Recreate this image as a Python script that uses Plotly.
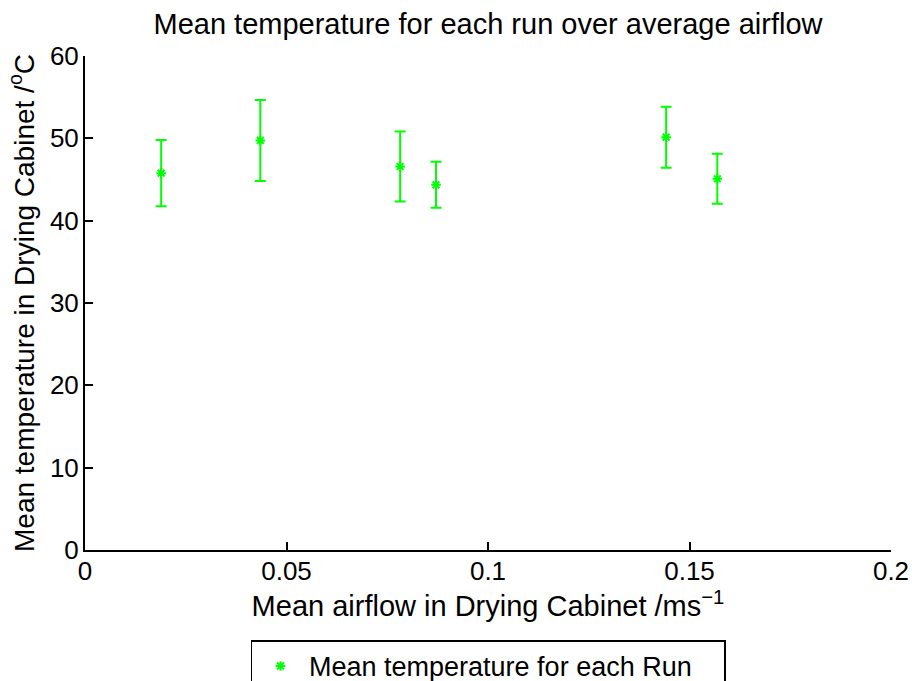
import plotly.graph_objects as go

airflow = [0.0189, 0.0435, 0.0782, 0.0871, 0.1442, 0.1569]
mean_temp = [45.77, 49.74, 46.58, 44.36, 50.14, 45.09]
temp_err = [4.03, 4.92, 4.25, 2.80, 3.70, 3.03]

x_ticks = [0, 0.05, 0.1, 0.15, 0.2]
x_ticklabels = ["0", "0.05", "0.1", "0.15", "0.2"]
y_ticks = [0, 10, 20, 30, 40, 50, 60]

FONT = "Liberation Sans, Arial, Helvetica, sans-serif"
GREEN = "#00ff00"

fig = go.Figure()
fig.add_trace(go.Scatter(
    x=airflow, y=mean_temp, mode="markers",
    name="Mean temperature for each Run",
    marker=dict(symbol="asterisk-open", size=8, color=GREEN,
                line=dict(color=GREEN, width=2)),
    error_y=dict(type="data", array=temp_err, visible=True,
                 color=GREEN, thickness=2, width=5.5),
))

fig.update_layout(
    width=912, height=681,
    paper_bgcolor="white", plot_bgcolor="white",
    margin=dict(l=85, r=21, t=56, b=131, autoexpand=False),
    font=dict(family=FONT, size=26, color="black"),
    title=dict(text="Mean temperature for each run over average airflow",
               x=0.5, xref="paper", xanchor="center",
               y=1 - 24 / 681, yref="container", yanchor="middle",
               font=dict(size=29)),
    showlegend=True,
    legend=dict(orientation="h", x=0.5, xanchor="center", y=-0.183,
                yanchor="top", bordercolor="black", borderwidth=1.5,
                bgcolor="white", itemwidth=47, entrywidth=410,
                font=dict(size=27)),
)
fig.update_xaxes(
    range=[0, 0.2], tickvals=x_ticks, ticktext=x_ticklabels,
    showline=True, linecolor="black", linewidth=2, mirror=False,
    ticks="inside", ticklen=8, tickwidth=1.5, tickcolor="black",
    showgrid=False, zeroline=False, automargin=False, ticklabelstandoff=-3,
    title=dict(text="Mean airflow in Drying Cabinet /ms<sup>−1</sup>",
               standoff=6, font=dict(size=29)),
)
fig.update_yaxes(
    range=[0, 60], tickvals=y_ticks,
    showline=True, linecolor="black", linewidth=2, mirror=False,
    ticks="inside", ticklen=8, tickwidth=1.5, tickcolor="black",
    showgrid=False, zeroline=False, ticklabelstandoff=-1, automargin=False,
    title=dict(text="Mean temperature in Drying Cabinet /<sup>o</sup>C",
               standoff=7, font=dict(size=28)),
)

fig.write_html("out.html", config={"displayModeBar": False},
               post_script="document.body.style.margin='0';")
